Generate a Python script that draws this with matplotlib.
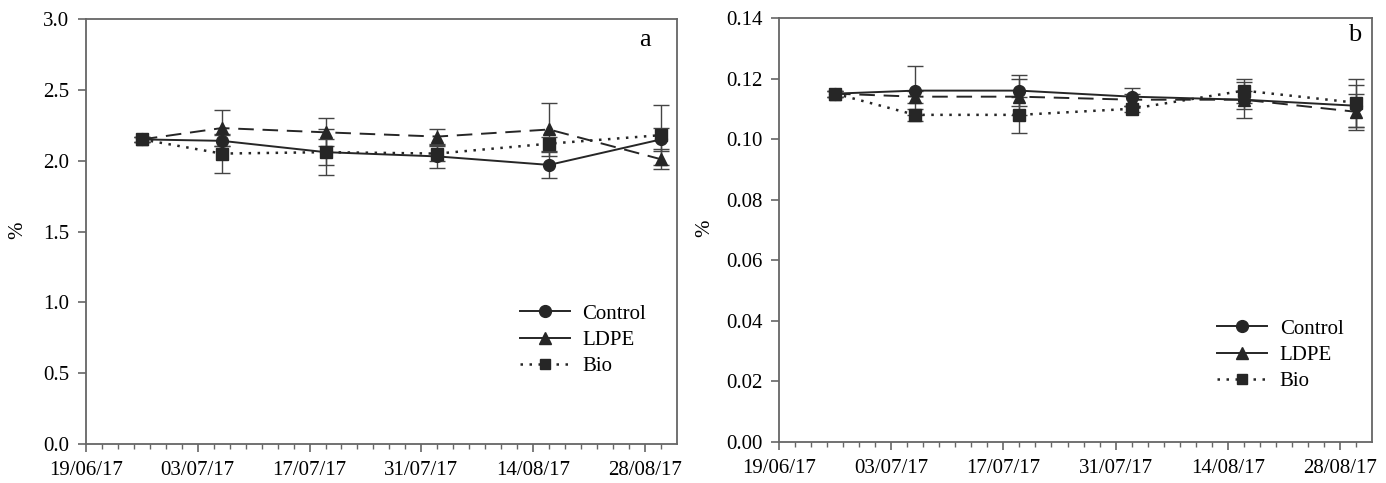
import matplotlib
matplotlib.use('Agg')
import matplotlib.pyplot as plt
import matplotlib.dates as mdates
from matplotlib.lines import Line2D
from datetime import datetime

plt.rcParams['font.family'] = ['Liberation Serif', 'DejaVu Serif']

dates = [datetime(2017, 6, 26), datetime(2017, 7, 6), datetime(2017, 7, 19),
         datetime(2017, 8, 2), datetime(2017, 8, 16), datetime(2017, 8, 30)]

# panel a
a_control = [2.15, 2.14, 2.06, 2.03, 1.97, 2.15]
a_control_err = [0.02, 0.04, 0.16, 0.08, 0.09, 0.08]
a_ldpe = [2.15, 2.23, 2.20, 2.17, 2.22, 2.01]
a_ldpe_err = [0.02, 0.13, 0.10, 0.05, 0.19, 0.07]
a_bio = [2.15, 2.05, 2.06, 2.05, 2.12, 2.18]
a_bio_err = [0.02, 0.14, 0.09, 0.05, 0.05, 0.21]

# panel b
b_control = [0.115, 0.116, 0.116, 0.114, 0.113, 0.111]
b_control_err = [0.001, 0.008, 0.005, 0.003, 0.006, 0.007]
b_ldpe = [0.115, 0.114, 0.114, 0.113, 0.113, 0.109]
b_ldpe_err = [0.001, 0.002, 0.006, 0.002, 0.003, 0.006]
b_bio = [0.115, 0.108, 0.108, 0.110, 0.116, 0.112]
b_bio_err = [0.001, 0.002, 0.006, 0.001, 0.004, 0.008]

names = ['Control', 'LDPE', 'Bio']
major_dates = [datetime(2017, 6, 19), datetime(2017, 7, 3), datetime(2017, 7, 17),
               datetime(2017, 7, 31), datetime(2017, 8, 14), datetime(2017, 8, 28)]
col = '#262626'
spine_col = '#666666'

fig = plt.figure(figsize=(13.86, 4.83), dpi=100)
ax1 = fig.add_axes([0.062, 0.0807, 0.4264, 0.880])
ax2 = fig.add_axes([0.562, 0.0849, 0.428, 0.878])


def draw(ax, c, ce, l, le, b, be, ylim, yticks, fmt, letter, lpos, legpos):
    ax.errorbar(dates, c, yerr=ce, color=col, lw=1.4, marker='o', ms=8.5,
                capsize=6, elinewidth=1.0, ecolor='#444444', ls='-')
    ax.errorbar(dates, l, yerr=le, color=col, lw=1.4, marker='^', ms=8.5,
                capsize=6, elinewidth=1.0, ecolor='#444444', ls=(0, (8, 4.5)))
    ax.errorbar(dates, b, yerr=be, color=col, lw=1.8, marker='s', ms=8.5,
                capsize=6, elinewidth=1.0, ecolor='#444444', ls=(0, (1, 2.6)))
    ax.set_xlim(datetime(2017, 6, 19), datetime(2017, 9, 1))
    ax.set_ylim(*ylim)
    ax.set_yticks(yticks)
    ax.yaxis.set_major_formatter(plt.FormatStrFormatter(fmt))
    ax.set_xticks(major_dates)
    minor = [mdates.date2num(datetime(2017, 6, 19)) + 2 * i for i in range(37)]
    ax.set_xticks(minor, minor=True)
    ax.xaxis.set_major_formatter(mdates.DateFormatter('%d/%m/%y'))
    ax.tick_params(axis='both', which='major', labelsize=15, color=spine_col,
                   length=6, width=1.2, direction='out', pad=6)
    ax.tick_params(axis='x', which='minor', color=spine_col, length=3.5, width=1.0)
    for s in ax.spines.values():
        s.set_color(spine_col)
        s.set_linewidth(1.3)
    ax.text(lpos[0], lpos[1], letter, transform=ax.transAxes, fontsize=19,
            ha='center', va='center')
    handles = [Line2D([], [], color=col, lw=1.4, marker='o', ms=8.5, ls='-'),
               Line2D([], [], color=col, lw=1.4, marker='^', ms=8.5, ls='-'),
               Line2D([], [], color=col, lw=1.8, marker='s', ms=7.5, ls=(0, (1, 2.6)))]
    ax.legend(handles, names, loc='upper left', bbox_to_anchor=legpos, frameon=False,
              fontsize=15, handlelength=2.4, handletextpad=0.6, labelspacing=0.32,
              borderpad=0, borderaxespad=0)


draw(ax1, a_control, a_control_err, a_ldpe, a_ldpe_err, a_bio, a_bio_err,
     (0, 3.0), [0, 0.5, 1.0, 1.5, 2.0, 2.5, 3.0], '%.1f', 'a', (0.946, 0.95),
     (0.734, 0.329))
draw(ax2, b_control, b_control_err, b_ldpe, b_ldpe_err, b_bio, b_bio_err,
     (0, 0.14), [0, 0.02, 0.04, 0.06, 0.08, 0.10, 0.12, 0.14], '%.2f', 'b',
     (0.971, 0.96), (0.739, 0.290))

fig.text(18 / 1386, 1 - 230 / 483, '%', rotation=90, fontsize=15, ha='center', va='center')
fig.text(705 / 1386, 1 - 228 / 483, '%', rotation=90, fontsize=15, ha='center', va='center')

fig.savefig('out.png', dpi=100)
